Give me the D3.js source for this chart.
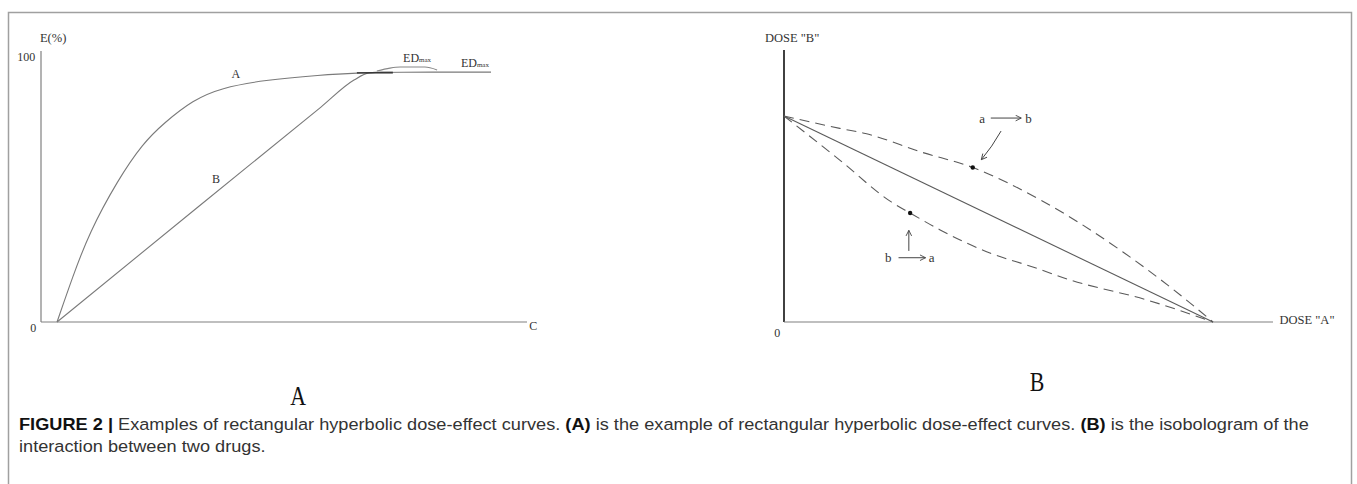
<!DOCTYPE html>
<html><head><meta charset="utf-8">
<script src="https://cdn.jsdelivr.net/npm/d3@7"></script>
<style>body{margin:0;background:#fff} svg{display:block}</style>
</head><body><svg id="c" width="1357" height="484"></svg>
<script>
// ---------- Data (Panel A: dose-effect curves) ----------
const curveA_x = [3.3, 6.5, 9.9, 15.8, 21.0, 25.3, 31.3, 37.0, 45.9, 57.6, 65.0, 72.4, 92.6];
const curveA_y = [0, 17.0, 33.6, 53.6, 67.5, 75.1, 83.8, 88.3, 91.3, 93.2, 94.0, 94.3, 94.3];
const curveB_x = [3.3, 32.3, 57.6, 64.4, 67.5, 70.0, 72.4];
const curveB_y = [0, 43.4, 81.1, 91.3, 94.0, 94.3, 94.3];
const edArc_x = [69.1, 71.8, 73.9, 79.0, 81.5];
const edArc_y = [94.7, 95.8, 96.2, 96.2, 95.1];
const overlap_x = [65.0, 72.4];
const overlap_y = [94.0, 94.0];
const panelA_ticks = ["0", "100"];
const panelA_axisLabels = ["E(%)", "C"];

// ---------- Data (Panel B: isobologram) ----------
const additive_x = [0, 100];
const additive_y = [100, 0];
const upper_x = [0, 13, 19, 32, 44, 60, 79, 90, 100];
const upper_y = [100, 94, 91.5, 82.5, 75, 59, 34, 17, 0];
const lower_x = [0, 13, 25, 29.4, 36.4, 48, 58, 66.7, 84.6, 100];
const lower_y = [100, 78.6, 58.3, 52.9, 44.7, 33.5, 26.7, 20.4, 10.7, 0];
const dots_x = [44, 29.4];
const dots_y = [75, 52.9];
const panelB_axisLabels = ['DOSE "B"', 'DOSE "A"', "0"];

const captionBold = ["FIGURE 2 |", "(A)", "(B)"];
const captionText = [" Examples of rectangular hyperbolic dose-effect curves. ",
  " is the example of rectangular hyperbolic dose-effect curves. ",
  " is the isobologram of the"];
const captionLine2 = "interaction between two drugs.";

// ---------- Drawing ----------
const svg = d3.select("#c");
const serif = "'Liberation Serif','Times New Roman',serif";
const zip = (xs, ys) => xs.map((v, i) => [v, ys[i]]);

// frame
svg.append("rect").attr("x", 8.5).attr("y", 12.5).attr("width", 1343).attr("height", 500)
  .attr("fill", "none").attr("stroke", "#a0a0a0").attr("stroke-width", 1.5);

// Panel A scales
const xA = d3.scaleLinear().domain([0, 100]).range([41, 527]);
const yA = d3.scaleLinear().domain([0, 100]).range([322, 57]);
const gA = svg.append("g");
gA.append("line").attr("x1", xA(0)).attr("x2", xA(0)).attr("y1", yA(0)).attr("y2", yA(102.3))
  .attr("stroke", "#808080").attr("stroke-width", 1.2);
gA.append("line").attr("x1", xA(0)).attr("x2", xA(100)).attr("y1", yA(0)).attr("y2", yA(0))
  .attr("stroke", "#808080").attr("stroke-width", 1.2);

const lineA = d3.line().x(d => xA(d[0])).y(d => yA(d[1])).curve(d3.curveMonotoneX);
const lineSmooth = d3.line().x(d => xA(d[0])).y(d => yA(d[1])).curve(d3.curveBasis);
gA.append("path").attr("d", lineSmooth(zip(curveA_x, curveA_y))).attr("fill", "none")
  .attr("stroke", "#7a7a7a").attr("stroke-width", 1.1);
gA.append("path").attr("d", lineA(zip(curveB_x, curveB_y))).attr("fill", "none")
  .attr("stroke", "#7a7a7a").attr("stroke-width", 1.1);
gA.append("path").attr("d", lineA(zip(edArc_x, edArc_y))).attr("fill", "none")
  .attr("stroke", "#888").attr("stroke-width", 1.1);
gA.append("path").attr("d", lineA(zip(overlap_x, overlap_y))).attr("fill", "none")
  .attr("stroke", "#222").attr("stroke-width", 1.4);

const tA = (x, y, s, size, anchor) => gA.append("text").attr("x", x).attr("y", y).text(s)
  .attr("font-family", serif).attr("font-size", size || 12).attr("fill", "#333")
  .attr("text-anchor", anchor || "middle").attr("dominant-baseline", "central");
tA(xA(-1.2), yA(100), panelA_ticks[1], 12, "end");
tA(xA(-1.6), yA(-2.3), panelA_ticks[0], 12, "middle");
tA(xA(2.5), yA(107), panelA_axisLabels[0], 12.5, "middle");
tA(xA(101.3), yA(-1.5), panelA_axisLabels[1], 12, "middle");
tA(xA(40.1), yA(93.6), "A", 12);
tA(xA(36.0), yA(54.0), "B", 12);
function ed(x, y) {
  const t = gA.append("text").attr("x", x).attr("y", y).attr("font-family", serif)
    .attr("font-size", 12).attr("fill", "#333").attr("dominant-baseline", "central");
  t.append("tspan").text("ED");
  t.append("tspan").text("max").attr("font-size", 7).attr("dy", 2);
}
ed(xA(74.5), yA(99.6));
ed(xA(86.4), yA(97.6));

// Panel B scales
const xB = d3.scaleLinear().domain([0, 100]).range([784, 1213]);
const yB = d3.scaleLinear().domain([0, 100]).range([322, 116]);
const gB = svg.append("g");
gB.append("line").attr("x1", xB(0)).attr("x2", xB(0)).attr("y1", yB(0)).attr("y2", yB(132))
  .attr("stroke", "#111").attr("stroke-width", 1.6);
gB.append("line").attr("x1", xB(0)).attr("x2", xB(114)).attr("y1", yB(0)).attr("y2", yB(0))
  .attr("stroke", "#808080").attr("stroke-width", 1.2);
const lineB = d3.line().x(d => xB(d[0])).y(d => yB(d[1])).curve(d3.curveMonotoneX);
gB.append("path").attr("d", lineB(zip(additive_x, additive_y))).attr("fill", "none")
  .attr("stroke", "#5a5a5a").attr("stroke-width", 1.1);
gB.append("path").attr("d", lineB(zip(upper_x, upper_y))).attr("fill", "none")
  .attr("stroke", "#5a5a5a").attr("stroke-width", 1.1).attr("stroke-dasharray", "10,6");
gB.append("path").attr("d", lineB(zip(lower_x, lower_y))).attr("fill", "none")
  .attr("stroke", "#5a5a5a").attr("stroke-width", 1.1).attr("stroke-dasharray", "10,6");
gB.selectAll("circle.d").data(zip(dots_x, dots_y)).join("circle")
  .attr("cx", d => xB(d[0])).attr("cy", d => yB(d[1])).attr("r", 2.2).attr("fill", "#111");

const tB = (x, y, s, anchor, size) => gB.append("text").attr("x", x).attr("y", y).text(s)
  .attr("font-family", serif).attr("font-size", size || 12.5).attr("fill", "#333")
  .attr("text-anchor", anchor || "middle").attr("dominant-baseline", "central");
tB(xB(1.9), yB(137.9), panelB_axisLabels[0]);
tB(xB(115.5), yB(1), panelB_axisLabels[1], "start");
tB(xB(-1.6), yB(-5.3), panelB_axisLabels[2], "middle", 12);

// annotation arrows
const defs = svg.append("defs");
defs.append("marker").attr("id", "ah").attr("viewBox", "0 0 10 10").attr("refX", 9).attr("refY", 5)
  .attr("markerWidth", 7).attr("markerHeight", 7).attr("orient", "auto")
  .append("path").attr("d", "M1,1 L9,5 L1,9").attr("fill", "none").attr("stroke", "#444").attr("stroke-width", 1.3);
const arr = (d) => gB.append("path").attr("d", d).attr("fill", "none").attr("stroke", "#444")
  .attr("stroke-width", 1).attr("marker-end", "url(#ah)");
tB(xB(46.2), yB(99), "a", "middle", 13);
arr(`M${xB(48.2)},${yB(99)} L${xB(55.3)},${yB(99)}`);
tB(xB(57.0), yB(99), "b", "middle", 13);
arr(`M${xB(50.6)},${yB(92.7)} Q${xB(48.5)},${yB(85)} ${xB(46.0)},${yB(78.8)}`);
tB(xB(24.3), yB(31.4), "b", "middle", 13);
arr(`M${xB(26.7)},${yB(31.2)} L${xB(33.0)},${yB(31.2)}`);
tB(xB(34.4), yB(31.4), "a", "middle", 13);
arr(`M${xB(29.1)},${yB(34.5)} L${xB(29.1)},${yB(44.5)}`);

// big panel letters (condensed serif)
const big = (x, y, s) => svg.append("text").attr("x", 0).attr("y", 0).text(s).attr("font-family", serif)
  .attr("font-size", 28).attr("text-anchor", "middle").attr("fill", "#111")
  .attr("transform", `translate(${x},${y}) scale(0.78,1)`);
big(xA(52.9), 405, "A");
big(xB(59), 391, "B");

// caption
const capFont = "'Liberation Sans Narrow','Liberation Sans',Arial,sans-serif";
const cap1 = svg.append("text").attr("x", 19).attr("y", 430).attr("font-family", capFont)
  .attr("font-size", 16.5).attr("fill", "#333");
for (let i = 0; i < 3; i++) {
  cap1.append("tspan").text(captionBold[i]).attr("font-weight", "bold").attr("fill", "#111");
  cap1.append("tspan").text(captionText[i]);
}
const cap2 = svg.append("text").attr("x", 19).attr("y", 452.5).attr("font-family", capFont)
  .attr("font-size", 16.5).attr("fill", "#333").text(captionLine2);
const w = cap1.node().getComputedTextLength();
const sx = 1290 / w;
cap1.attr("transform", `translate(19,0) scale(${sx},1) translate(-19,0)`);
cap2.attr("transform", `translate(19,0) scale(${sx},1) translate(-19,0)`);
</script></body></html>
